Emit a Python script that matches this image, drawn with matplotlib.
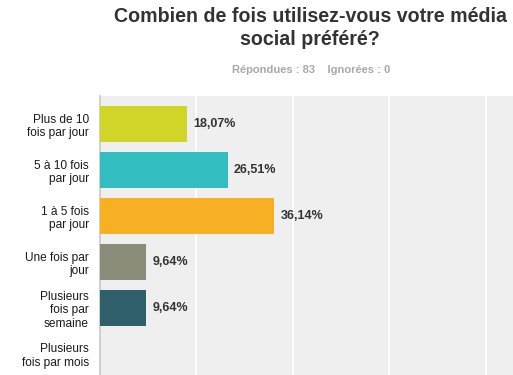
#!/usr/bin/env python

""" bar chart: frequence d'utilisation du media social prefere """

import numpy as np
import matplotlib
matplotlib.use("Agg")
import matplotlib.pyplot as plt

categories = ["Plus de 10\nfois par jour", "5 à 10 fois\npar jour",
              "1 à 5 fois\npar jour", "Une fois par\njour",
              "Plusieurs\nfois par\nsemaine", "Plusieurs\nfois par mois"]
values = [18.07, 26.51, 36.14, 9.64, 9.64, 0.0]
colours = ["#d0d527", "#32bec0", "#f7b024", "#8b8b7a", "#2e5f6b", "#6b6b6b"]
title = "Combien de fois utilisez-vous votre média\nsocial préféré?"
subtitle = "Répondues : 83    Ignorées : 0"


def fmt(v):
    return ("%.2f%%" % v).replace(".", ",")


def main():
    plt.rcParams['font.family'] = ["Liberation Sans", "DejaVu Sans"]
    W, H = 513, 375
    fig = plt.figure(figsize=(W / 100, H / 100), dpi=100)

    ax = fig.add_axes([100 / W, 0, (W - 100) / W, (375 - 96) / H])
    ax.set_facecolor("#efefef")

    y = np.arange(len(categories))
    ax.barh(y, values, height=36 / 46, color=colours, zorder=3)
    for yi, v in zip(y, values):
        if v > 0:
            ax.text(v + 1.25, yi, fmt(v), va="center", ha="left",
                    fontsize=9, fontweight="bold", color="#333333")

    ax.set_xlim(0, (W - 100) / 4.823)
    ax.set_ylim(5 + 21 / 46, -0.5 - 5 / 46)
    ax.set_xticks([20, 40, 60, 80])
    ax.set_xticklabels([])
    ax.tick_params(length=0)
    ax.grid(axis="x", color="white", linewidth=1.2, zorder=1)
    ax.set_yticks(y)
    ax.set_yticklabels(categories, fontsize=8.6, color="#1a1a1a",
                       linespacing=1.2)
    ax.tick_params(axis="y", pad=8)
    for s in ["top", "right", "bottom"]:
        ax.spines[s].set_visible(False)
    ax.spines["left"].set_color("#c8c8c8")
    ax.spines["left"].set_linewidth(1.2)

    fig.text(310 / W, 1 - 28 / H, title, ha="center", va="center",
             fontsize=14.1, fontweight="bold", color="#333333",
             linespacing=1.3)
    fig.text(311 / W, 1 - 70 / H, subtitle, ha="center", va="center",
             fontsize=8, fontweight="bold", color="#a8a8a8")

    fig.savefig("out.png", dpi=100)


if __name__ == "__main__":

    main()
